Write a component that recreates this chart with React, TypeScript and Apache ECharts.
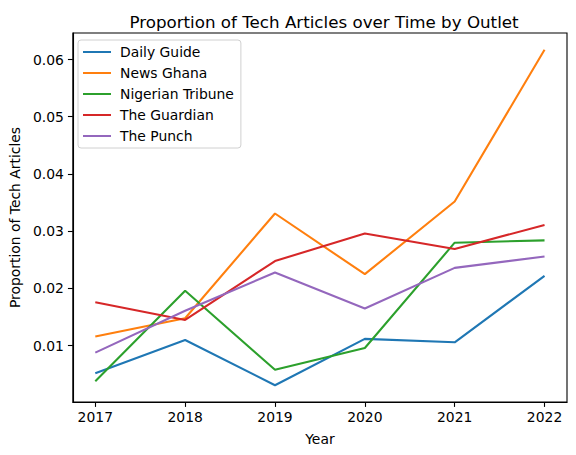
import React, { useEffect, useRef } from "react";
import * as echarts from "echarts";

const years = [2017, 2018, 2019, 2020, 2021, 2022];
const outlets = ["Daily Guide", "News Ghana", "Nigerian Tribune", "The Guardian", "The Punch"];
const dailyGuide = [0.0052, 0.011, 0.0031, 0.0112, 0.0106, 0.0222];
const newsGhana = [0.0116, 0.0148, 0.0331, 0.0225, 0.0352, 0.0617];
const nigerianTribune = [0.0038, 0.0196, 0.0058, 0.0096, 0.028, 0.0284];
const theGuardian = [0.0176, 0.0145, 0.0248, 0.0296, 0.0269, 0.0311];
const thePunch = [0.0088, 0.0161, 0.0228, 0.0165, 0.0236, 0.0256];
const yTicks = [0.01, 0.02, 0.03, 0.04, 0.05, 0.06];
const colors = ["#1f77b4", "#ff7f0e", "#2ca02c", "#d62728", "#9467bd"];

const allSeries = [dailyGuide, newsGhana, nigerianTribune, theGuardian, thePunch];

export default function App() {
  const ref = useRef<HTMLDivElement>(null);
  useEffect(() => {
    if (!ref.current) return;
    const chart = echarts.init(ref.current, null, { renderer: "svg" });
    const font = "DejaVu Sans";
    const allVals = allSeries.flat();
    const vmin = Math.min(...allVals);
    const vmax = Math.max(...allVals);
    const pad = (vmax - vmin) * 0.05;
    const xPad = (years[years.length - 1] - years[0]) * 0.05;
    chart.setOption({
      animation: false,
      textStyle: { fontFamily: font },
      color: colors,
      title: {
        text: "Proportion of Tech Articles over Time by Outlet",
        left: 319,
        top: 8,
        textAlign: "center",
        textStyle: { fontFamily: font, fontSize: 16.7, fontWeight: "normal", color: "#000" },
      },
      grid: {
        left: 71,
        right: 9,
        top: 33,
        bottom: 53,
        show: true,
        borderColor: "#000",
        borderWidth: 1.1,
        containLabel: false,
      },
      legend: {
        orient: "vertical",
        left: 78,
        top: 40,
        padding: [5, 7, 5, 4],
        itemWidth: 28,
        itemHeight: 14,
        itemGap: 7,
        itemStyle: { opacity: 0 },
        borderColor: "#d0d0d0",
        borderWidth: 1,
        borderRadius: 3,
        backgroundColor: "rgba(255,255,255,0.8)",
        textStyle: { fontFamily: font, fontSize: 13.9, color: "#000", padding: [0, 0, 0, 4] },
        data: outlets,
      },
      xAxis: {
        type: "value",
        min: years[0] - xPad,
        max: years[years.length - 1] + xPad,
        name: "Year",
        nameLocation: "middle",
        nameGap: 30,
        nameTextStyle: { fontFamily: font, fontSize: 13.9, color: "#000" },
        axisLine: { show: true, onZero: false, lineStyle: { color: "#000", width: 1.1 } },
        axisTick: { show: true, length: 4.9, lineStyle: { color: "#000", width: 1.1 }, customValues: years },
        axisLabel: {
          fontFamily: font,
          fontSize: 13.9,
          color: "#000",
          margin: 8,
          customValues: years,
          formatter: (v: number) => String(Math.round(v)),
        },
        splitLine: { show: false },
      },
      yAxis: {
        type: "value",
        min: vmin - pad,
        max: vmax + pad,
        name: "Proportion of Tech Articles",
        nameLocation: "middle",
        nameGap: 50,
        nameTextStyle: { fontFamily: font, fontSize: 13.9, color: "#000" },
        axisLine: { show: true, onZero: false, lineStyle: { color: "#000", width: 1.1 } },
        axisTick: { show: true, length: 4.9, lineStyle: { color: "#000", width: 1.1 }, customValues: yTicks },
        axisLabel: {
          fontFamily: font,
          fontSize: 13.9,
          color: "#000",
          margin: 9,
          customValues: yTicks,
          formatter: (v: number) => v.toFixed(2),
        },
        splitLine: { show: false },
      },
      series: outlets.map((name, i) => ({
        name,
        type: "line",
        showSymbol: false,
        symbol: "none",
        data: years.map((y, j) => [y, allSeries[i][j]]),
        lineStyle: { width: 2.08, color: colors[i] },
        itemStyle: { color: colors[i] },
      })),
    });
    return () => chart.dispose();
  }, []);
  return (
    <div
      ref={ref}
      style={{ position: "fixed", left: 0, top: 0, width: 576, height: 455, background: "#fff" }}
    />
  );
}
